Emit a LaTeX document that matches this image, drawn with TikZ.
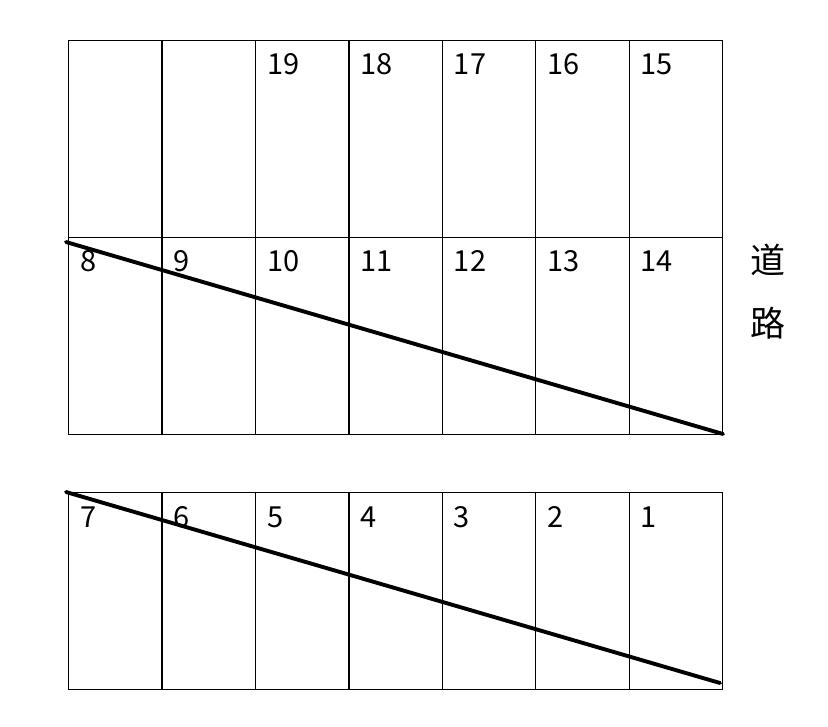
\documentclass[tikz,border=0pt]{standalone}
\usepackage{fontspec}
\setmainfont{Noto Sans CJK SC}
\begin{document}
\begin{tikzpicture}[x=1pt,y=-1pt,
  cell/.style={draw, line width=1.3pt, rectangle, minimum width=93.43pt, minimum height=197pt, inner sep=0pt, anchor=north west},
  lbl/.style={anchor=base west, inner sep=0pt, font=\fontsize{29}{30}\selectfont},
  road/.style={inner sep=0pt, font=\fontsize{35}{36}\selectfont},
  diag/.style={line width=3.9pt, line cap=round}]
\useasboundingbox (0,0) rectangle (828,727);
\foreach \i in {0,...,6} {
  \node[cell] (t\i) at ({68+\i*93.43},40) {};
  \node[cell] (m\i) at ({68+\i*93.43},237) {};
  \node[cell] (b\i) at ({68+\i*93.43},492) {};
}
\foreach \i/\n in {2/19,3/18,4/17,5/16,6/15} {
  \node[lbl] (lt\i) at ([shift={(12,35)}]t\i.north west) {\n};
}
\foreach \i/\n in {0/8,1/9,2/10,3/11,4/12,5/13,6/14} {
  \node[lbl] (lm\i) at ([shift={(12,35)}]m\i.north west) {\n};
}
\foreach \i/\n in {0/7,1/6,2/5,3/4,4/3,5/2,6/1} {
  \node[lbl] (lb\i) at ([shift={(12,35)}]b\i.north west) {\n};
}
\node[road] (r1) at (768,260) {道};
\node[road] (r2) at (768,323) {路};
\coordinate (d1s) at (66,242);
\coordinate (d1e) at (723,434);
\coordinate (d2s) at (66,492);
\coordinate (d2e) at (720,683);
\draw[diag] (d1s) -- (d1e);
\draw[diag] (d2s) -- (d2e);
\end{tikzpicture}
\end{document}
